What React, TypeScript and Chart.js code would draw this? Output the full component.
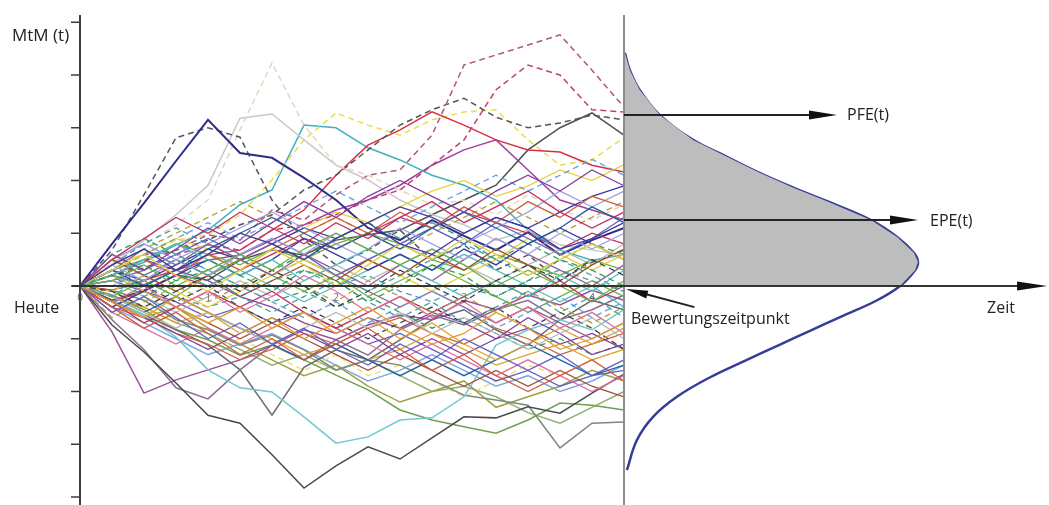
import React, { useEffect, useRef } from "react";
import { Chart, registerables } from "chart.js";

Chart.register(...registerables);

// time grid of the simulated paths (years)
const TIMES = [0, 0.25, 0.5, 0.75, 1, 1.25, 1.5, 1.75, 2, 2.25, 2.5, 2.75, 3, 3.25, 3.5, 3.75, 4, 4.25];
const VALUATION_TIME = 4.25;
const X_TICK_LABELS = ["0", "1", "2", "3", "4"];
const Y_TICKS = [-4, -3, -2, -1, 0, 1, 2, 3, 4, 5];

// simulated MtM paths – the dense middle bundle
const M01 = [0, 0.4, 0.7, 0.3, 0.6, 1.0, 0.8, 0.5, 0.9, 1.2, 0.8, 0.6, 1.0, 1.3, 1.1, 0.7, 0.9, 1.2];
const M02 = [0, -0.3, -0.6, -0.2, -0.5, -0.9, -0.6, -1.0, -0.7, -0.4, -0.8, -1.1, -0.9, -0.5, -0.8, -1.2, -1.0, -0.7];
const M03 = [0, 0.2, -0.2, 0.1, 0.5, 0.2, -0.1, 0.3, 0.1, -0.3, 0.0, 0.4, 0.2, -0.2, 0.1, 0.5, 0.3, 0.0];
const M04 = [0, 0.5, 0.9, 1.3, 1.0, 1.4, 1.1, 0.8, 1.2, 0.9, 1.3, 1.6, 1.2, 1.5, 1.8, 1.4, 1.1, 1.4];
const M05 = [0, -0.5, -0.2, -0.6, -1.0, -0.7, -1.1, -0.8, -1.2, -1.5, -1.1, -1.4, -1.0, -1.3, -1.6, -1.3, -1.7, -1.4];
const M06 = [0, 0.3, 0.6, 0.2, -0.1, 0.3, 0.7, 0.4, 0.0, 0.4, 0.8, 0.5, 0.9, 0.6, 0.2, 0.5, 0.8, 0.5];
const M07 = [0, -0.2, 0.2, 0.5, 0.2, -0.2, -0.5, -0.2, 0.1, -0.3, -0.6, -0.3, -0.7, -0.4, -0.1, -0.5, -0.2, -0.6];
const M08 = [0, 0.6, 0.3, 0.7, 1.1, 0.8, 1.2, 1.6, 1.3, 1.7, 2.0, 1.7, 1.4, 1.8, 2.1, 1.8, 2.2, 1.9];
const M09 = [0, -0.4, -0.8, -0.5, -0.9, -1.3, -1.0, -1.4, -1.1, -0.8, -1.2, -1.6, -1.3, -1.7, -2.0, -1.7, -1.4, -1.8];
const M10 = [0, 0.1, 0.4, 0.0, 0.3, 0.6, 0.3, 0.7, 1.0, 0.7, 0.4, 0.7, 0.4, 0.0, 0.3, 0.0, -0.3, 0.1];
const M11 = [0, -0.1, -0.4, -0.1, 0.2, -0.1, 0.3, 0.0, -0.4, -0.1, 0.3, 0.0, -0.3, 0.1, 0.4, 0.1, 0.5, 0.2];
const M12 = [0, 0.4, 0.1, 0.5, 0.2, 0.6, 0.9, 0.6, 1.0, 0.7, 1.1, 0.8, 0.5, 0.9, 0.6, 1.0, 0.7, 1.0];
const M13 = [0, -0.3, 0.0, -0.4, -0.1, -0.5, -0.2, 0.2, -0.1, -0.5, -0.2, -0.6, -0.3, -0.7, -0.4, -0.8, -0.5, -0.9];
const M14 = [0, 0.2, 0.5, 0.8, 0.5, 0.2, 0.5, 0.1, 0.4, 0.7, 0.4, 0.1, -0.2, 0.1, -0.2, 0.2, -0.1, 0.3];
const M15 = [0, -0.6, -0.3, 0.0, -0.3, 0.0, 0.3, 0.0, -0.3, 0.1, -0.2, -0.5, -0.2, -0.5, -0.1, -0.4, -0.7, -0.4];
const M16 = [0, 0.3, 0.0, 0.3, 0.7, 1.0, 1.3, 1.0, 0.7, 1.0, 0.7, 1.1, 1.4, 1.1, 0.8, 1.1, 1.5, 1.2];
const M17 = [0, -0.2, -0.5, -0.8, -0.5, -0.8, -1.1, -0.8, -0.5, -0.8, -0.5, -0.9, -0.6, -0.9, -1.2, -0.9, -0.6, -1.0];
const M18 = [0, 0.5, 0.2, -0.1, 0.2, -0.2, 0.1, 0.4, 0.1, 0.5, 0.2, 0.6, 0.3, 0.7, 0.4, 0.0, 0.4, 0.7];
const M19 = [0, 0.0, 0.3, 0.6, 0.3, 0.0, -0.3, -0.6, -0.3, -0.7, -0.4, -0.1, -0.4, -0.8, -0.5, -0.2, -0.6, -0.3];
const M20 = [0, 0.3, 0.7, 0.4, 0.8, 0.5, 0.2, 0.6, 0.3, 0.0, 0.4, 0.1, 0.5, 0.9, 0.6, 0.3, 0.0, 0.4];
const M21 = [0, -0.4, -0.1, 0.2, 0.5, 0.2, 0.5, 0.9, 0.6, 0.3, 0.6, 0.3, 0.7, 0.4, 0.8, 1.1, 0.8, 0.5];
const M22 = [0, 0.2, -0.1, -0.4, -0.7, -0.4, -0.8, -0.5, -0.9, -0.6, -1.0, -0.7, -1.1, -1.4, -1.1, -0.8, -1.1, -0.8];
const M23 = [0, 0.6, 0.9, 0.6, 0.3, 0.6, 0.3, 0.6, 0.9, 1.2, 0.9, 1.2, 0.9, 0.5, 0.8, 0.5, 0.8, 0.6];
const M24 = [0, -0.3, -0.7, -0.4, -0.1, -0.4, -0.1, -0.5, -0.8, -0.5, -0.2, -0.5, -0.2, 0.1, -0.2, 0.1, -0.3, 0.0];
const M25 = [0, 0.1, 0.3, 0.6, 0.9, 0.6, 0.9, 0.6, 0.2, 0.5, 0.8, 1.1, 0.8, 1.2, 0.9, 0.6, 0.9, 1.3];
const M26 = [0, -0.1, 0.2, -0.1, -0.4, -0.1, 0.2, 0.5, 0.2, 0.5, 0.2, -0.1, 0.2, 0.5, 0.9, 0.6, 0.3, 0.6];
const M27 = [0, 0.4, 0.8, 1.1, 0.8, 0.5, 0.2, 0.5, 0.2, -0.1, 0.2, 0.5, 0.8, 0.5, 0.2, 0.5, 0.2, -0.1];
const M28 = [0, -0.3, -0.6, -0.9, -1.2, -0.9, -0.6, -0.9, -1.2, -0.9, -1.3, -1.0, -1.3, -1.0, -0.6, -0.9, -1.3, -1.1];
const M29 = [0, 0.2, 0.5, 0.2, 0.6, 0.3, 0.7, 1.0, 1.3, 1.0, 1.4, 1.1, 1.5, 1.2, 1.6, 1.3, 1.7, 1.5];
const M30 = [0, -0.2, 0.1, -0.2, 0.2, 0.5, 0.2, -0.1, 0.2, -0.2, 0.1, 0.4, 0.1, -0.2, -0.5, -0.2, 0.1, -0.2];
const M31 = [0, 0.3, 0.0, -0.3, 0.0, -0.4, -0.7, -0.4, -0.7, -1.0, -0.7, -0.4, -0.7, -0.4, -0.8, -0.5, -0.8, -1.2];
const M32 = [0, 0.5, 0.8, 0.5, 0.8, 1.1, 1.4, 1.1, 0.8, 0.5, 0.8, 1.1, 0.8, 1.1, 1.4, 1.8, 1.5, 1.8];
const M33 = [0, -0.5, -0.8, -1.1, -0.8, -1.1, -0.8, -0.5, -0.8, -1.1, -1.4, -1.1, -1.4, -1.7, -1.4, -1.7, -2.0, -1.7];
const M34 = [0, 0.2, 0.0, 0.3, 0.0, 0.3, 0.0, -0.3, 0.0, 0.3, 0.6, 0.3, 0.6, 0.3, 0.0, -0.3, 0.0, -0.4];
const M35 = [0, 0.4, 0.7, 1.0, 1.3, 1.6, 1.3, 1.0, 1.3, 1.0, 0.7, 1.0, 1.3, 1.6, 1.3, 1.0, 1.3, 1.6];
const M36 = [0, -0.2, -0.5, -0.2, -0.5, -0.8, -1.1, -1.4, -1.1, -1.4, -1.7, -1.4, -1.7, -1.4, -1.1, -1.4, -1.7, -1.5];
const M37 = [0, 0.1, -0.2, -0.5, -0.2, 0.1, -0.2, 0.1, 0.4, 0.1, 0.4, 0.7, 0.4, 0.1, 0.4, 0.7, 0.4, 0.8];
const M38 = [0, -0.4, -0.1, -0.4, -0.7, -1.0, -0.7, -1.0, -1.3, -1.6, -1.3, -1.6, -1.9, -1.6, -1.9, -1.6, -1.9, -2.1];
const M39 = [0, 0.3, 0.6, 0.9, 1.2, 0.9, 1.2, 1.5, 1.8, 1.5, 1.2, 1.5, 1.8, 2.1, 1.8, 2.1, 2.4, 2.1];
const M40 = [0, -0.1, 0.2, 0.5, 0.2, 0.5, 0.8, 0.5, 0.2, -0.1, -0.4, -0.1, -0.4, -0.7, -0.4, -0.7, -1.0, -0.7];
const M41 = [0, 0.3, 0.1, 0.4, 0.7, 0.5, 0.8, 1.1, 0.9, 1.2, 1.5, 1.3, 1.0, 1.3, 1.1, 1.4, 1.7, 1.9];
const M42 = [0, -0.2, -0.4, -0.7, -0.5, -0.8, -1.0, -1.3, -1.1, -1.4, -1.2, -0.9, -1.2, -1.5, -1.3, -1.1, -1.4, -1.2];
const M43 = [0, 0.2, 0.4, 0.1, 0.3, 0.0, -0.3, -0.1, -0.4, -0.2, -0.5, -0.8, -0.6, -0.9, -1.2, -1.0, -1.3, -1.1];
const M44 = [0, -0.3, -0.1, 0.2, 0.0, 0.3, 0.6, 0.9, 0.7, 1.0, 1.3, 1.1, 1.4, 1.2, 1.0, 0.7, 1.0, 0.8];
const M45 = [0, 0.1, -0.1, -0.3, -0.6, -0.4, -0.7, -0.5, -0.8, -1.1, -0.9, -1.2, -1.5, -1.8, -1.6, -1.9, -1.7, -1.6];
const M46 = [0, 0.4, 0.6, 0.9, 0.7, 1.0, 0.8, 1.1, 1.4, 1.2, 1.5, 1.8, 2.0, 1.7, 1.9, 2.2, 2.0, 2.3];
const M47 = [0, -0.1, 0.1, -0.2, -0.4, -0.2, 0.1, 0.3, 0.0, 0.2, -0.1, -0.3, 0.0, -0.2, 0.1, 0.3, 0.1, -0.1];
const M48 = [0, 0.2, 0.5, 0.3, 0.1, -0.2, -0.4, -0.7, -0.9, -0.6, -0.8, -0.5, -0.7, -1.0, -0.8, -1.1, -0.9, -1.2];
const M49 = [0, -0.4, -0.6, -0.9, -1.1, -1.4, -1.2, -0.9, -1.1, -0.8, -0.6, -0.9, -1.1, -0.8, -1.0, -1.3, -1.1, -0.9];
const M50 = [0, 0.3, 0.5, 0.8, 0.6, 0.4, 0.7, 0.5, 0.8, 1.0, 0.8, 0.5, 0.3, 0.6, 0.4, 0.2, 0.5, 0.3];

// simulated MtM paths – the visible outliers
const P_A = [0, -0.74, -1.25, -1.84, -2.45, -2.6, -3.2, -3.83, -3.41, -3.05, -3.28, -2.88, -2.48, -2.5, -2.29, -2.41, -2.03, -1.67];
const P_B = [0, 0.8, 1.57, 2.37, 3.15, 2.52, 2.43, 2.05, 1.63, 1.1, 0.87, 1.25, 0.95, 0.68, 1.02, 0.59, 0.87, 1.1];
const P_C = [0, 0.68, 1.73, 2.81, 3.0, 2.82, 1.63, 0.87, 0.4, 0.68, 1.06, 0.49, 0.78, 0.3, 0.59, 0.11, 0.45, 0.68];
const P_D = [0, 0.45, 0.78, 1.16, 1.63, 2.96, 4.23, 3.05, 2.29, 2.1, 1.82, 1.54, 1.63, 1.35, 1.73, 1.44, 1.25, 1.54];
const P_E = [0, 0.4, 0.87, 1.35, 1.91, 3.18, 3.26, 2.77, 2.29, 2.01, 1.63, 1.35, 1.16, 0.87, 1.06, 0.78, 0.68, 0.59];
const P_F = [0, 0.3, 0.59, 0.68, 0.97, 0.87, 1.44, 1.25, 1.73, 2.1, 2.2, 2.86, 4.19, 4.38, 4.57, 4.76, 4.09, 3.39];
const P_G = [0, 0.21, 0.34, 0.59, 0.78, 0.68, 1.06, 1.16, 1.35, 1.63, 1.82, 2.29, 2.77, 3.72, 4.19, 4.0, 3.34, 3.3];
const P_H = [0, 0.3, 0.49, 0.68, 0.87, 1.16, 1.35, 1.82, 2.1, 2.58, 3.05, 3.34, 3.56, 3.2, 3.0, 3.09, 3.24, 3.15];
const P_I = [0, -0.08, 0.11, 0.3, 0.59, 0.68, 1.06, 1.44, 2.1, 2.67, 2.96, 3.3, 3.05, 2.77, 2.58, 2.54, 2.29, 2.16];
const P_J = [0, 0.3, 0.59, 0.87, 0.97, 1.35, 2.01, 2.77, 3.28, 3.05, 2.86, 3.15, 3.3, 3.34, 2.77, 2.29, 2.39, 2.81];
const P_K = [0, 0.21, 0.45, 0.78, 1.06, 1.54, 1.82, 3.05, 3.0, 2.62, 2.39, 2.1, 1.91, 1.63, 1.06, 0.68, 0.49, 0.59];
const P_L = [0, -0.27, -0.08, 0.21, 0.11, 0.49, 0.68, 0.59, 0.87, 0.97, 1.06, 1.35, 1.63, 1.91, 2.58, 3.0, 3.28, 2.86];
const P_M = [0, 0.21, 0.02, 0.3, 0.49, 0.59, 0.87, 1.16, 1.44, 1.63, 1.91, 2.29, 2.58, 2.77, 2.2, 1.63, 1.44, 1.25];
const P_N = [0, -0.27, -0.55, -0.97, -1.59, -1.93, -2.01, -2.48, -2.98, -2.86, -2.54, -2.5, -2.1, -1.12, -0.83, -0.64, -0.83, -0.45];
const P_O = [0, -0.87, -2.03, -1.78, -1.59, -1.4, -1.12, -0.83, -1.02, -0.74, -0.55, -0.64, -0.27, -0.45, -0.17, -0.36, -0.08, -0.27];
const P_P = [0, -0.64, -1.21, -1.93, -2.14, -1.59, -1.12, -1.4, -1.02, -1.31, -0.83, -0.55, -0.74, -0.45, -0.27, -0.64, -0.45, -0.17];
const P_Q = [0, -0.27, -0.55, -0.83, -1.12, -1.59, -2.45, -1.54, -1.21, -1.4, -1.02, -0.64, -0.45, -0.83, -1.12, -0.64, -0.27, -0.45];
const P_R = [0, -0.08, -0.27, -0.64, -0.83, -1.12, -0.93, -1.21, -1.59, -1.4, -1.5, -1.78, -2.07, -2.16, -2.26, -3.07, -2.6, -2.58];
const P_S = [0, -0.17, -0.45, -0.83, -1.02, -1.31, -1.12, -1.4, -1.69, -1.97, -2.35, -2.54, -2.67, -2.79, -2.54, -2.22, -2.26, -2.35];
const P_T = [0, -0.3, -0.6, -0.4, -0.8, -1.1, -1.4, -1.7, -1.5, -1.9, -2.2, -2.0, -1.8, -2.3, -2.1, -1.9, -1.6, -1.8];
const P_U = [0, -0.2, -0.5, -0.9, -1.2, -1.0, -1.3, -1.6, -1.3, -1.7, -1.5, -1.8, -2.1, -1.8, -1.5, -1.7, -1.4, -1.2];
const P_V = [0, -0.4, -0.7, -1.0, -1.3, -1.1, -0.9, -1.2, -1.5, -1.8, -1.6, -1.3, -1.6, -1.9, -1.7, -2.0, -1.8, -1.5];
const P_W = [0, -0.1, -0.4, -0.7, -0.9, -1.2, -1.5, -1.3, -1.6, -1.4, -1.7, -2.0, -1.9, -2.1, -2.4, -2.6, -2.3, -2.0];

const MIDDLE_PATHS = [M01, M02, M03, M04, M05, M06, M07, M08, M09, M10, M11, M12, M13, M14, M15, M16, M17, M18, M19, M20,
  M21, M22, M23, M24, M25, M26, M27, M28, M29, M30, M31, M32, M33, M34, M35, M36, M37, M38, M39, M40,
  M41, M42, M43, M44, M45, M46, M47, M48, M49, M50];
const OUTLIER_PATHS = [P_A, P_B, P_C, P_D, P_E, P_F, P_G, P_H, P_I, P_J, P_K, P_L, P_M, P_N, P_O, P_P, P_Q, P_R, P_S, P_T, P_U, P_V, P_W];

// distribution of MtM at the valuation date
const DIST_MTM = [4.42, 4.09, 3.71, 3.24, 2.77, 2.45, 2.14, 1.86, 1.63, 1.25, 0.93, 0.63, 0.455, 0.3, 0.0, -0.27, -0.59, -0.83, -1.12, -1.4, -1.73, -2.1, -2.48, -2.92, -3.49];
const DIST_DENSITY = [0.003, 0.02, 0.054, 0.122, 0.235, 0.35, 0.463, 0.578, 0.68, 0.84, 0.929, 0.986, 1.0, 0.99, 0.939, 0.861, 0.735, 0.64, 0.527, 0.418, 0.293, 0.18, 0.099, 0.044, 0.01];
const PFE_VALUE = 3.24;
const EPE_VALUE = 1.25;

// styles
const MIDDLE_COLORS = ["#3a3aa0", "#e0a030", "#30a060", "#c03060", "#6060c0", "#e8d040", "#40a0b0", "#8040a0", "#d06040", "#70b040",
  "#404040", "#a0a0e0", "#e070a0", "#50c0c0", "#b0a030", "#2060a0", "#b8b8b8", "#a05030", "#60a0e0", "#906090"];
const OUTLIER_COLORS = ["#4a4a4a", "#2e2e8a", "#555566", "#e4d6bc", "#c8c8c8", "#b05878", "#c04070", "#505060", "#d83040", "#eedd44",
  "#40b0c0", "#505050", "#a040a0", "#70c8d0", "#9a509a", "#8a7090", "#6a6a6a", "#7a8a7a", "#70a050", "#a0a040", "#eee080", "#80a8e0", "#90b070"];
const OUTLIER_DASHED = [false, false, true, true, false, true, true, true, false, true, false, false, false, false, false, false, false, false, false, false, true, false, false];

const FONT = '"Open Sans", "DejaVu Sans", sans-serif';

function toPoints(vals: number[]) {
  return vals.map((v, i) => ({ x: TIMES[i], y: v }));
}

const overlay = {
  id: "overlay",
  afterDatasetsDraw(chart: any) {
    const { ctx, chartArea } = chart;
    const xs = chart.scales.x;
    const ys = chart.scales.y;
    const x0 = xs.getPixelForValue(0);
    const y0 = ys.getPixelForValue(0);
    const xv = xs.getPixelForValue(VALUATION_TIME);
    const top = chartArea.top;
    const bottom = chartArea.bottom;

    const line = (a: number, b: number, c: number, d: number) => {
      ctx.beginPath();
      ctx.moveTo(a, b);
      ctx.lineTo(c, d);
      ctx.stroke();
    };
    const head = (tx: number, ty: number, fx: number, fy: number, len: number, half: number) => {
      const ang = Math.atan2(ty - fy, tx - fx);
      const bx = tx - len * Math.cos(ang);
      const by = ty - len * Math.sin(ang);
      ctx.beginPath();
      ctx.moveTo(tx, ty);
      ctx.lineTo(bx + half * Math.sin(ang), by - half * Math.cos(ang));
      ctx.lineTo(bx - half * Math.sin(ang), by + half * Math.cos(ang));
      ctx.closePath();
      ctx.fill();
    };

    ctx.save();
    // valuation date line
    ctx.strokeStyle = "#8c8c8c";
    ctx.lineWidth = 2;
    line(xv, top, xv, bottom);

    // left axis and ticks
    ctx.strokeStyle = "#3c3c3c";
    ctx.lineWidth = 2;
    line(x0, top, x0, bottom);
    ctx.lineWidth = 1.5;
    for (const t of Y_TICKS) {
      const py = ys.getPixelForValue(t);
      line(x0 - 9, py, x0, py);
    }

    // time axis with arrow
    ctx.strokeStyle = "#333";
    ctx.fillStyle = "#111";
    ctx.lineWidth = 2;
    const xEnd = xs.getPixelForValue(7.555);
    line(x0 - 8, y0, xEnd - 20, y0);
    head(xEnd, y0, x0, y0, 30, 4.5);

    // x tick labels
    ctx.fillStyle = "#666";
    ctx.font = `10px ${FONT}`;
    ctx.textAlign = "center";
    ctx.textBaseline = "middle";
    X_TICK_LABELS.forEach((lab, i) => {
      ctx.fillText(lab, xs.getPixelForValue(i), y0 + 12);
    });

    // PFE / EPE arrows
    ctx.strokeStyle = "#222";
    ctx.fillStyle = "#111";
    ctx.lineWidth = 2;
    const pfeY = ys.getPixelForValue(PFE_VALUE);
    const pfeTip = xs.getPixelForValue(5.914);
    line(xv, pfeY, pfeTip - 20, pfeY);
    head(pfeTip, pfeY, xv, pfeY, 28, 4.5);
    const epeY = ys.getPixelForValue(EPE_VALUE);
    const epeTip = xs.getPixelForValue(6.547);
    line(xv, epeY, epeTip - 20, epeY);
    head(epeTip, epeY, xv, epeY, 28, 4.5);

    // valuation arrow
    const bTipX = xv + 2;
    const bTipY = y0 + 3;
    const bTailX = xs.getPixelForValue(4.8);
    const bTailY = ys.getPixelForValue(-0.4);
    ctx.lineWidth = 2;
    line(bTailX, bTailY, bTipX + 10, bTipY + 2.5);
    head(bTipX, bTipY, bTailX, bTailY, 22, 4);

    // texts
    ctx.fillStyle = "#222";
    ctx.font = `16px ${FONT}`;
    ctx.textAlign = "left";
    ctx.textBaseline = "alphabetic";
    ctx.fillText("Heute", 14, 313);
    ctx.fillText("Zeit", 987, 313);
    ctx.fillText("Bewertungszeitpunkt", 631, 324);
    ctx.fillText("PFE(t)", 847, 120);
    ctx.fillText("EPE(t)", 930, 226);
    ctx.font = `17px ${FONT}`;
    ctx.fillText("MtM (t)", 12, 41);
    ctx.restore();
  },
};

export default function App() {
  const ref = useRef<HTMLCanvasElement | null>(null);

  useEffect(() => {
    document.body.style.margin = "0";
    const canvas = ref.current;
    if (!canvas) return;

    const datasets: any[] = [];

    // grey filled area of the positive part of the distribution
    const upper: { x: number; y: number }[] = [{ x: 0, y: 0 }];
    for (let i = DIST_MTM.length - 1; i >= 0; i--) {
      if (DIST_MTM[i] >= 0) upper.push({ x: DIST_DENSITY[i], y: DIST_MTM[i] });
    }
    upper.push({ x: 0, y: DIST_MTM[0] });
    datasets.push({
      data: upper,
      xAxisID: "xd",
      yAxisID: "y",
      borderWidth: 0,
      borderColor: "rgba(0,0,0,0)",
      backgroundColor: "#bdbdbd",
      fill: "shape",
      tension: 0,
      pointRadius: 0,
    });

    MIDDLE_PATHS.forEach((vals, i) => {
      datasets.push({
        data: toPoints(vals),
        xAxisID: "x",
        yAxisID: "y",
        borderColor: MIDDLE_COLORS[i % MIDDLE_COLORS.length],
        borderWidth: 1.3,
        borderDash: i % 4 === 2 ? [6, 4] : [],
        fill: false,
        tension: 0,
        pointRadius: 0,
      });
    });

    OUTLIER_PATHS.forEach((vals, i) => {
      datasets.push({
        data: toPoints(vals),
        xAxisID: "x",
        yAxisID: "y",
        borderColor: OUTLIER_COLORS[i],
        borderWidth: i === 1 ? 2 : 1.5,
        borderDash: OUTLIER_DASHED[i] ? [6, 4] : [],
        fill: false,
        tension: 0,
        pointRadius: 0,
      });
    });

    datasets.push({
      data: DIST_MTM.map((v, i) => ({ x: DIST_DENSITY[i], y: v })),
      xAxisID: "xd",
      yAxisID: "y",
      borderColor: "#343d96",
      borderWidth: 2.5,
      fill: false,
      tension: 0.4,
      pointRadius: 0,
    });

    const chart = new Chart(canvas, {
      type: "line",
      data: { datasets },
      options: {
        animation: false,
        responsive: false,
        maintainAspectRatio: false,
        events: [],
        layout: { padding: { left: 80, top: 15, right: 0, bottom: 0 } },
        plugins: { legend: { display: false }, tooltip: { enabled: false } },
        scales: {
          x: { type: "linear", display: false, min: 0, max: 7.5703 },
          xd: { type: "linear", axis: "x", position: "bottom", display: false, min: -1.8503, max: 1.4456 },
          y: { type: "linear", display: false, min: -4.1517, max: 5.1374 },
        },
      },
      plugins: [overlay],
    } as any);

    return () => chart.destroy();
  }, []);

  return (
    <div style={{ width: 1049, height: 505, background: "#fff" }}>
      <canvas ref={ref} width={1049} height={505} style={{ display: "block" }} />
    </div>
  );
}
